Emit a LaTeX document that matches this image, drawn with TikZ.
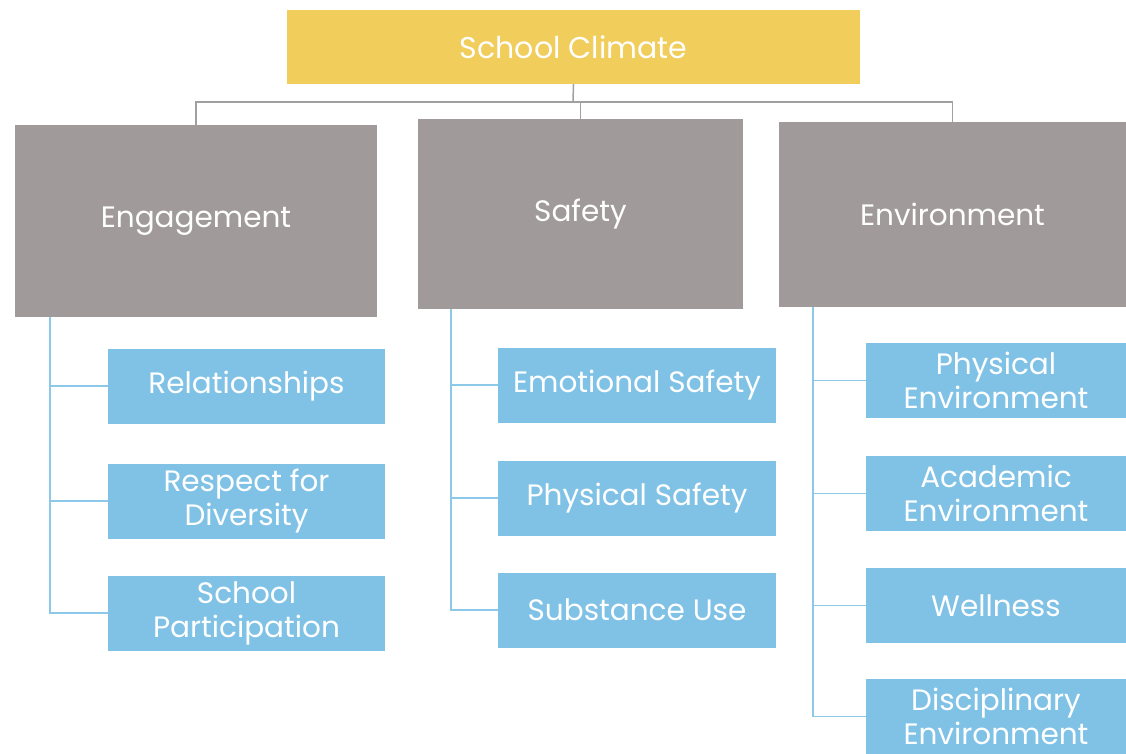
\documentclass[tikz,border=0pt]{standalone}
\usepackage{fontspec}
\setmainfont{Poppins}
\definecolor{topy}{HTML}{F1CD5C}
\definecolor{grayb}{HTML}{A09A9A}
\definecolor{blueb}{HTML}{80C2E6}
\definecolor{linegray}{HTML}{A0A0A0}
\definecolor{lineblue}{HTML}{8CC8E8}
\begin{document}
\begin{tikzpicture}[x=1pt,y=-1pt,
  topbox/.style={fill=topy,text=white,minimum width=573pt,minimum height=74pt,inner sep=0pt,font=\fontsize{30}{34}\selectfont},
  catbox/.style={fill=grayb,text=white,inner sep=0pt,font=\fontsize{29.5}{34}\selectfont},
  subbox/.style={fill=blueb,text=white,inner sep=0pt,minimum height=75pt,align=center,font=\fontsize{29.5}{34}\selectfont},
  gline/.style={draw=linegray,line width=1.5pt},
  bline/.style={draw=lineblue,line width=1.5pt}]
\useasboundingbox (0,0) rectangle (1126,754);
\fill[white] (0,0) rectangle (1126,754);
\node[topbox] (top) at (573.5,47) {School Climate};
\node[catbox,minimum width=362pt,minimum height=192pt] (eng) at (196,221) {Engagement};
\node[catbox,minimum width=325pt,minimum height=190pt] (saf) at (580.5,214) {Safety};
\node[catbox,minimum width=347pt,minimum height=185pt] (env) at (952.5,214.5) {Environment};
% engagement subs
\node[subbox,minimum width=277pt] (e1) at (246.5,386) {Relationships};
\node[subbox,minimum width=277pt] (e2) at (246.5,501) {Respect for\\Diversity};
\node[subbox,minimum width=277pt] (e3) at (246.5,613) {School\\Participation};
% safety subs
\node[subbox,minimum width=278pt] (s1) at (637,385) {Emotional Safety};
\node[subbox,minimum width=278pt] (s2) at (637,498) {Physical Safety};
\node[subbox,minimum width=278pt] (s3) at (637,610) {Substance Use};
% environment subs
\node[subbox,minimum width=260pt] (v1) at (996,380.5) {Physical\\Environment};
\node[subbox,minimum width=260pt] (v2) at (996,493.5) {Academic\\Environment};
\node[subbox,minimum width=260pt] (v3) at (996,605.5) {Wellness};
\node[subbox,minimum width=260pt,text depth=0pt] (v4) at (996,716.5) {Disciplinary\\Environment};
% top connectors
\coordinate (j) at (573,102);
\draw[gline] (top.south) -- (j);
\draw[gline] (j) -| (eng.north);
\draw[gline] (j) -| (saf.north);
\draw[gline] (j) -| (env.north);
% side connectors
\foreach \n in {e1,e2,e3} \draw[bline] ([xshift=35pt]eng.south west) |- (\n.west);
\foreach \n in {s1,s2,s3} \draw[bline] ([xshift=33pt]saf.south west) |- (\n.west);
\foreach \n in {v1,v2,v3,v4} \draw[bline] ([xshift=34pt]env.south west) |- (\n.west);
\end{tikzpicture}
\end{document}
